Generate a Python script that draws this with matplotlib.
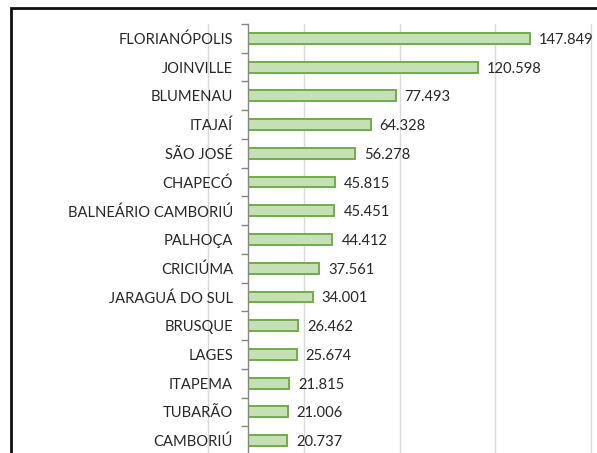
import matplotlib
matplotlib.use("Agg")
import matplotlib.pyplot as plt
from matplotlib.patches import Rectangle
from matplotlib.ticker import FixedLocator, NullFormatter

cities = ["FLORIANÓPOLIS", "JOINVILLE", "BLUMENAU", "ITAJAÍ", "SÃO JOSÉ",
          "CHAPECÓ", "BALNEÁRIO CAMBORIÚ", "PALHOÇA", "CRICIÚMA",
          "JARAGUÁ DO SUL", "BRUSQUE", "LAGES", "ITAPEMA", "TUBARÃO", "CAMBORIÚ"]
values = [147849, 120598, 77493, 64328, 56278, 45815, 45451, 44412, 37561,
          34001, 26462, 25674, 21815, 21006, 20737]

grid_values = [-20500, 29500, 79500, 129500, 179500]

W, H, DPI = 597, 453, 100
fig = plt.figure(figsize=(W / DPI, H / DPI), dpi=DPI)
fig.patch.set_facecolor("white")

font = ["Lato", "DejaVu Sans"]
txt_color = "#262626"

left_px, top_px, bottom_px = 247.5, 24, 455
ax = fig.add_axes([left_px / W, 1 - bottom_px / H, 1 - left_px / W, (bottom_px - top_px) / H])
ax.set_facecolor("none")

n = len(cities)
pos = list(range(n))
ax.barh(pos, values, height=0.38, color="#c5e0b4", edgecolor="#70ad47", linewidth=1.4, zorder=3)
ax.set_ylim(n - 0.5, -0.5)
ax.set_xlim(0, 182750)

for g in grid_values:
    ax.axvline(g, color="#d9d9d9", linewidth=1.0, zorder=0, clip_on=False)

for p, v in zip(pos, values):
    ax.annotate(f"{v:,}".replace(",", "."), xy=(v, p), xytext=(9, -1.5),
                textcoords="offset pixels", ha="left", va="center",
                fontsize=10.6, family=font, color=txt_color, zorder=4)

ax.set_yticks(pos)
ax.set_yticklabels(cities, fontfamily=font, fontsize=10.6, color=txt_color)
ax.tick_params(axis="y", which="major", length=0, pad=10.5)
ax.yaxis.set_minor_locator(FixedLocator([p - 0.5 for p in pos] + [n - 0.5]))
ax.yaxis.set_minor_formatter(NullFormatter())
ax.tick_params(axis="y", which="minor", length=5, width=1, color="#868686", direction="out")
ax.set_xticks([])

for s in ["top", "right", "bottom"]:
    ax.spines[s].set_visible(False)
ax.spines["left"].set_color("#868686")
ax.spines["left"].set_linewidth(1.0)
ax.spines["left"].set_zorder(5)

# outer chart frame (partially cropped)
fig.add_artist(Rectangle((10.5 / W, -0.1), 1.2, 1 - 8.5 / H + 0.1, transform=fig.transFigure,
                         fill=False, edgecolor="#111111", linewidth=2.0))

fig.savefig("out.png", dpi=DPI)
